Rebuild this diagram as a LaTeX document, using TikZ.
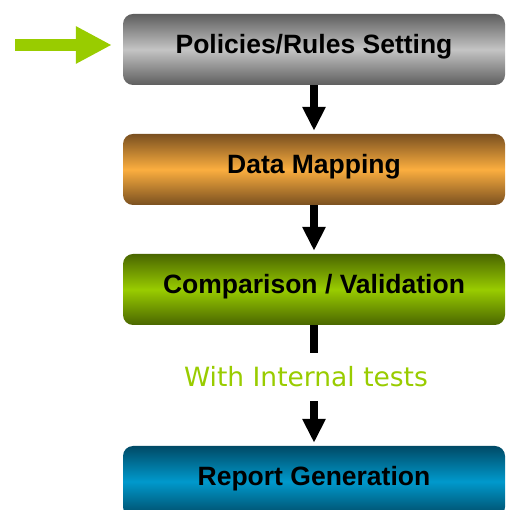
\documentclass[tikz,border=0pt]{standalone}
\usepackage{fontspec}
\setmainfont{Liberation Sans}
\newfontfamily\notefont{DejaVu Sans}
\usepackage{tikz}
\usetikzlibrary{positioning}
\usetikzlibrary{arrows.meta}
\usetikzlibrary{calc}
\definecolor{greyedge}{HTML}{5E5E5E}
\definecolor{greymid}{HTML}{C4C4C4}
\definecolor{orangeedge}{HTML}{7A5020}
\definecolor{orangemid}{HTML}{FBAE3F}
\definecolor{greenedge}{HTML}{4A6600}
\definecolor{greenmid}{HTML}{99CC00}
\definecolor{blueedge}{HTML}{004A66}
\definecolor{bluemid}{HTML}{0099CC}
\tikzset{
	every node/.style={align=center},
	stagebox/.style={rounded corners=10pt,minimum width=382pt,minimum height=71pt,
		text height=19pt,text depth=10pt,
		font=\fontsize{26.5}{30}\selectfont\bfseries,text=black},
	stem/.style={line width=8pt,black},
	flow/.style={stem,-{Triangle[length=24pt,width=22pt]},shorten >=3pt},
}

\begin{document}
\begin{tikzpicture}[x=1pt,y=1pt]

			% page frame.....................
			\useasboundingbox (0,0) rectangle (506,510);
			\clip (0,0) rectangle (506,510);

			% stage boxes....................
			\node [stagebox,top color=greyedge,bottom color=greyedge,middle color=greymid] (rules) at (314,460.5) {Policies/Rules Setting};
			\node [stagebox,top color=orangeedge,bottom color=orangeedge,middle color=orangemid] (mapping) at (314,340.5) {Data Mapping};
			\node [stagebox,top color=greenedge,bottom color=greenedge,middle color=greenmid] (compare) at (314,220.5) {Comparison / Validation};
			\node [stagebox,top color=blueedge,bottom color=blueedge,middle color=bluemid] (report) at (314,28.5) {Report Generation};

			% note between comparison and report.............
			\node [font=\notefont\fontsize{26.5}{30}\selectfont,text=greenmid,inner sep=0pt,minimum height=48pt] (tests) at (306,133) {With Internal tests};

			% entry arrow....................
			\coordinate (entry) at (15,465);
			\draw [line width=12pt,greenmid,-{Triangle[length=36pt,width=35pt]},shorten >=11pt] (entry) -- (entry -| rules.west);

			% flow arrows....................
			\draw [flow] (rules.south) to (mapping.north);
			\draw [flow] (mapping.south) to (compare.north);
			\draw [stem] (compare.south) to (compare.south |- tests.north);
			\draw [flow] (compare.south |- tests.south) to (report.north);

		\end{tikzpicture}
\end{document}
